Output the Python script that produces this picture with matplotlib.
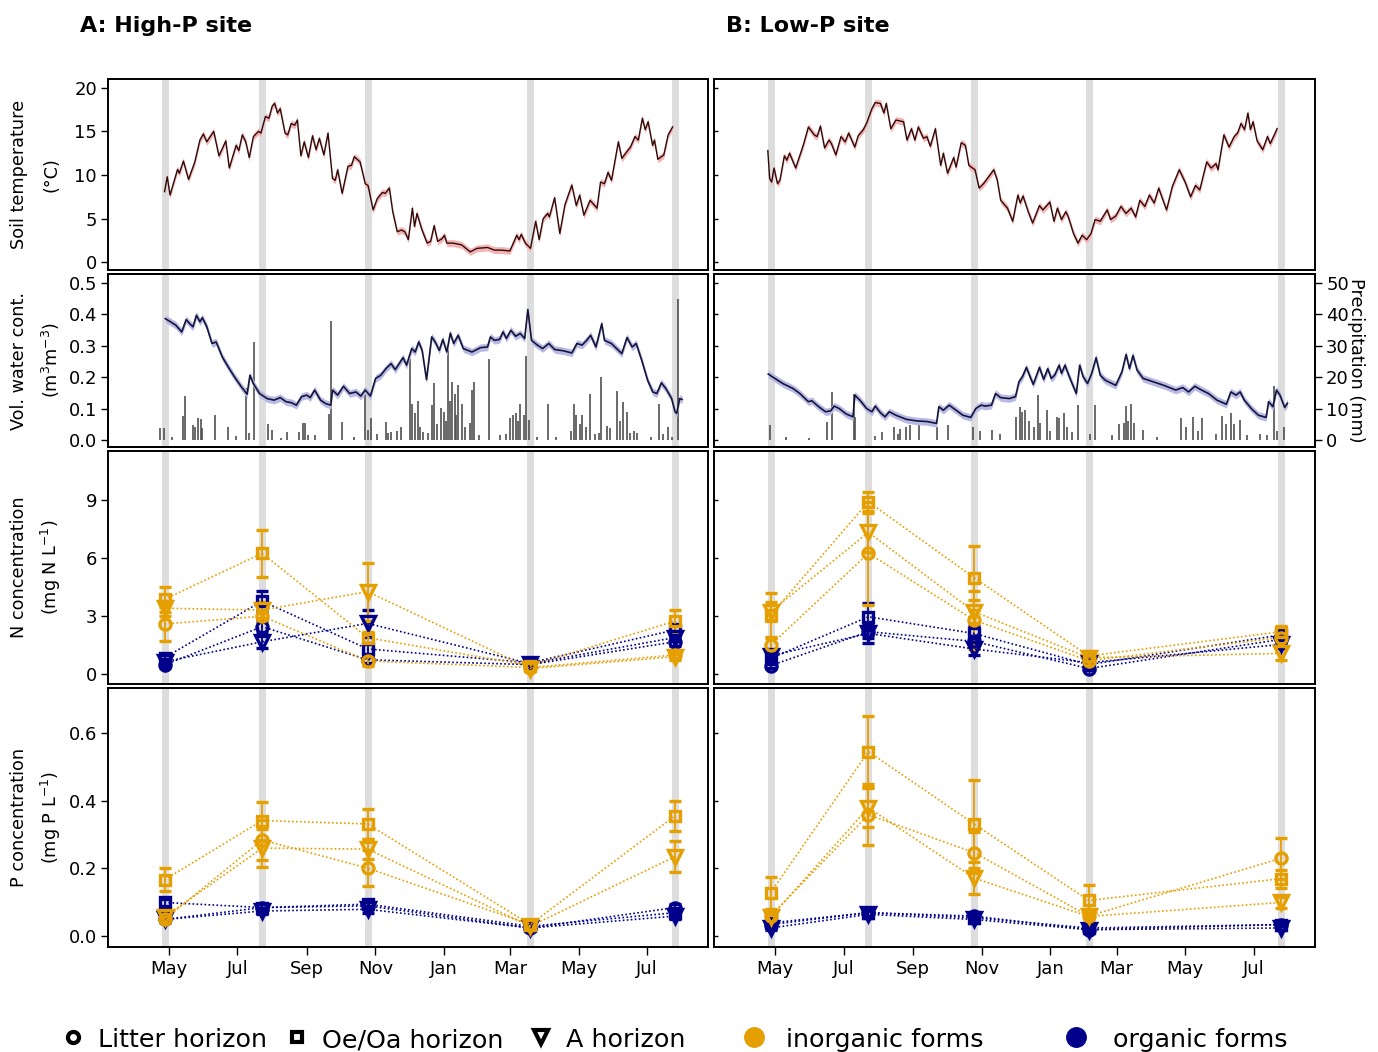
import numpy as np
import matplotlib
matplotlib.use("Agg")
import matplotlib.pyplot as plt
import matplotlib.dates as mdates
from matplotlib.lines import Line2D

plt.rcParams['font.family'] = ['DejaVu Sans']
plt.rcParams['mathtext.default'] = 'regular'

# ---------------- data (days since 1 May 2014) ----------------
BASE_DATE = '2014-05-01'

SAMPLE_A = [-4, 83, 177, 322, 451]
SAMPLE_B = [-4, 83, 177, 279, 450]

TEMP_A_DAYS = [-4.0, -1.6, 0.9, 7.6, 9.2, 12.8, 17.4, 23.0, 27.5, 30.6, 33.6, 39.8, 44.5, 48.1, 50.6, 53.7,
               59.8, 62.2, 65.3, 68.4, 71.5, 75.2, 79.8, 81.9, 85.9, 89.0, 92.0, 94.2, 96.7, 99.1, 103.4,
               105.8, 108.9, 112.0, 114.4, 117.5, 120.5, 124.2, 127.9, 131.0, 134.0, 138.0, 141.7, 145.7,
               148.2, 150.3, 154.3, 159.5, 162.6, 165.1, 170.3, 174.9, 177.4, 181.9, 185.6, 190.2, 192.7,
               196.4, 199.4, 203.4, 207.1, 210.2, 213.3, 216.9, 218.8, 221.0, 225.5, 230.1, 233.2, 236.3,
               239.4, 243.3, 245.5, 247.6, 253.1, 260.8, 268.5, 274.6, 283.9, 290.0, 296.1, 303.8, 306.9,
               309.9, 312.0, 313.9, 317.6, 322.2, 326.8, 329.9, 333.5, 337.5, 339.0, 343.7, 348.3, 352.9,
               359.0, 363.0, 366.0, 369.8, 375.3, 381.5, 384.6, 388.1, 391.3, 394.4, 400.5, 403.6, 408.2,
               411.3, 415.3, 418.3, 421.9, 424.4, 427.0, 431.0, 432.7, 435.7, 441.0, 444.9, 448.9]
TEMP_A = [8.1, 9.8, 7.7, 10.65, 10.2, 11.6, 9.5, 11.5, 14.0, 14.7, 13.8, 15.0, 12.2, 13.2, 13.9, 10.8,
          13.4, 12.8, 14.6, 13.8, 12.0, 14.4, 15.0, 14.8, 16.7, 16.5, 17.9, 18.2, 17.1, 17.6, 14.8,
          14.6, 15.9, 15.7, 16.3, 12.2, 13.8, 12.0, 14.5, 12.9, 14.2, 12.3, 14.8, 9.6,
          9.4, 10.6, 7.9, 11.0, 11.1, 12.1, 11.5, 9.0, 8.8, 6.0, 7.3, 8.0, 7.9,
          8.5, 5.8, 3.5, 3.7, 3.5, 2.6, 6.2, 4.1, 5.6, 3.7, 2.2, 2.4, 4.2,
          2.4, 2.7, 3.1, 2.2, 2.2, 2.0, 1.2, 1.6, 1.7, 1.4, 1.4, 1.3, 2.2,
          3.1, 2.6, 3.2, 2.2, 1.6, 4.7, 2.6, 5.0, 5.6, 5.2, 7.4, 3.3, 6.6,
          8.85, 6.5, 7.7, 5.4, 7.1, 6.2, 9.2, 9.0, 10.3, 9.4, 13.8, 11.9, 12.7,
          13.2, 14.4, 14.0, 16.5, 15.2, 16.1, 13.4, 14.0, 11.8, 12.3, 14.6, 15.5]

TEMP_B_DAYS = [-6.5, -4.9, -3.1, -1.0, 2.1, 4.3, 8.2, 10.4, 12.8, 18.3, 25.0, 29.6, 34.8, 37.3, 40.3, 44.0,
               47.9, 50.1, 54.0, 58.6, 62.3, 65.4, 70.9, 73.9, 78.5, 81.6, 86.1, 89.1, 93.7, 96.8, 98.9,
               102.9, 107.5, 114.3, 117.3, 121.3, 124.3, 127.4, 132.0, 135.0, 138.1, 142.6, 147.3, 149.7,
               153.4, 158.9, 161.0, 165.6, 169.3, 172.4, 177.9, 181.5, 185.4, 190.0, 194.6, 197.7, 200.7,
               206.8, 211.4, 216.0, 218.1, 220.6, 225.2, 229.1, 235.2, 238.3, 244.5, 248.1, 251.2, 254.8,
               258.7, 260.9, 265.5, 269.5, 273.2, 277.2, 281.1, 284.7, 289.3, 295.5, 298.5, 303.1, 307.7,
               312.2, 316.8, 320.8, 324.5, 329.0, 333.0, 337.3, 341.3, 348.3, 353.5, 359.6, 364.8, 369.7,
               374.0, 377.9, 384.0, 388.0, 392.3, 394.1, 399.3, 403.9, 408.5, 411.5, 414.6, 417.7, 420.7,
               422.9, 425.3, 428.9, 433.9, 438.1, 440.6, 446.7]
TEMP_B = [12.8, 9.6, 9.2, 10.8, 9.0, 9.4, 12.2, 11.7, 12.5, 10.8, 13.4, 15.5, 14.6, 14.4, 15.6, 13.1,
          14.0, 13.6, 12.3, 14.4, 13.8, 14.8, 13.2, 14.5, 15.2, 16.0, 17.6, 18.3, 18.2, 17.1, 18.2,
          15.3, 16.3, 16.1, 14.0, 15.3, 14.0, 15.5, 14.2, 14.4, 13.3, 15.3, 11.1, 12.5,
          10.2, 12.0, 10.9, 13.7, 13.4, 11.1, 10.6, 8.5, 9.0, 9.8, 10.6, 9.4, 7.1,
          6.2, 4.7, 7.7, 6.8, 7.6, 5.8, 4.5, 6.5, 6.0, 6.9, 4.7, 6.2, 4.9,
          5.8, 5.2, 3.3, 2.2, 3.1, 2.6, 3.3, 4.9, 4.7, 6.0, 4.9, 5.3, 6.4,
          5.6, 6.2, 5.2, 7.1, 6.4, 7.7, 6.8, 8.5, 6.0, 8.7, 10.6, 9.2, 7.5,
          8.8, 8.3, 11.5, 10.8, 11.3, 10.6, 14.6, 13.2, 14.4, 14.8, 15.9, 15.2, 17.1,
          15.2, 16.1, 13.9, 12.9, 14.4, 13.6, 15.3]

WATER_A_DAYS = [-3.3, 1.3, 6.1, 11.3, 15.3, 18.4, 21.4, 24.4, 27.5, 29.7, 33.7, 38.3, 42.0, 47.5, 53.0, 58.3,
                64.5, 69.6, 72.1, 75.1, 80.7, 87.4, 93.6, 99.1, 104.3, 108.9, 113.5, 118.1, 122.7, 125.8,
                129.8, 135.0, 139.6, 144.2, 145.7, 150.3, 155.5, 161.0, 166.6, 170.9, 174.9, 179.5, 184.1,
                188.7, 193.3, 197.9, 201.6, 208.6, 211.7, 216.3, 219.4, 222.5, 225.6, 229.5, 234.1, 237.2,
                240.9, 244.0, 247.6, 250.7, 253.7, 257.7, 262.3, 270.0, 277.7, 283.9, 286.4, 290.0, 294.6,
                297.7, 300.7, 304.7, 309.0, 313.0, 317.0, 319.8, 323.1, 328.3, 333.0, 338.5, 343.7, 351.3,
                359.0, 363.6, 368.2, 372.2, 375.8, 380.5, 385.7, 388.1, 394.3, 398.9, 403.6, 408.2, 412.8,
                416.4, 421.3, 426.6, 431.2, 434.8, 438.8, 442.8, 448.0, 451.0, 452.6, 455.1, 457.3]
WATER_A = [0.386, 0.376, 0.365, 0.344, 0.383, 0.370, 0.360, 0.397, 0.376, 0.389, 0.360, 0.307, 0.312, 0.264,
           0.231, 0.201, 0.169, 0.146, 0.206, 0.180, 0.148, 0.132, 0.127, 0.135, 0.122, 0.119, 0.111, 0.138,
           0.143, 0.135, 0.159, 0.127, 0.116, 0.111, 0.159, 0.143, 0.171, 0.148, 0.153, 0.140, 0.159, 0.140,
           0.196, 0.206, 0.227, 0.243, 0.224, 0.262, 0.238, 0.291, 0.280, 0.312, 0.285, 0.192, 0.328, 0.312,
           0.285, 0.320, 0.280, 0.340, 0.307, 0.333, 0.291, 0.280, 0.294, 0.296, 0.328, 0.317, 0.320,
           0.344, 0.323, 0.349, 0.330, 0.339, 0.323, 0.415, 0.317, 0.302, 0.291, 0.307, 0.288, 0.284,
           0.277, 0.307, 0.302, 0.317, 0.333, 0.296, 0.370, 0.317, 0.307, 0.291, 0.275, 0.326, 0.296,
           0.307, 0.254, 0.190, 0.153, 0.148, 0.182, 0.164, 0.132, 0.090, 0.085, 0.132, 0.129]

WATER_B_DAYS = [-6.1, -2.4, 6.7, 15.9, 22.0, 29.6, 32.7, 38.8, 44.9, 49.5, 52.5, 57.1, 63.2, 69.3, 70.9, 75.4,
                81.5, 86.1, 89.1, 93.7, 97.8, 101.5, 107.5, 116.7, 125.9, 135.0, 143.6, 145.7, 149.7, 154.9,
                161.0, 167.1, 174.1, 178.5, 183.3, 187.0, 192.5, 196.1, 200.7, 208.3, 213.9, 216.9, 220.0,
                223.6, 226.9, 229.7, 235.2, 238.9, 242.6, 245.7, 248.7, 252.7, 254.8, 257.9, 261.8, 268.0,
                271.0, 274.1, 278.0, 281.7, 285.6, 289.3, 293.9, 303.1, 308.6, 312.3, 315.3, 318.4, 322.1,
                327.5, 336.7, 345.9, 356.5, 362.7, 367.9, 373.4, 379.5, 385.6, 393.2, 401.5, 405.5, 410.1,
                413.8, 417.5, 423.8, 430.0, 436.9, 439.1, 443.0, 446.1, 449.2, 453.4, 455.9]
WATER_B = [0.210, 0.201, 0.180, 0.164, 0.148, 0.122, 0.125, 0.106, 0.090, 0.093, 0.108, 0.100, 0.083, 0.074,
           0.143, 0.127, 0.100, 0.090, 0.108, 0.087, 0.074, 0.090, 0.079, 0.066, 0.061, 0.059, 0.053, 0.106,
           0.095, 0.111, 0.095, 0.079, 0.072, 0.100, 0.111, 0.108, 0.111, 0.148, 0.135, 0.132, 0.138, 0.185,
           0.201, 0.231, 0.201, 0.177, 0.231, 0.193, 0.227, 0.196, 0.206, 0.238, 0.212, 0.238, 0.201, 0.148,
           0.238, 0.201, 0.180, 0.212, 0.262, 0.206, 0.190, 0.174, 0.217, 0.272, 0.227, 0.269, 0.222,
           0.196, 0.185, 0.174, 0.159, 0.167, 0.153, 0.171, 0.159, 0.148, 0.127, 0.114, 0.153, 0.143,
           0.153, 0.127, 0.100, 0.079, 0.072, 0.122, 0.106, 0.159, 0.143, 0.104, 0.117]

PRECIP_A_DAYS = [-8.3, -4.6, 3.0, 12.2, 14.4, 21.4, 23.5, 26.1, 28.5, 29.7, 40.8, 52.2, 60.0, 69.0, 71.4, 76.0,
                 88.3, 92.0, 100.0, 104.9, 115.7, 119.6, 121.2, 124.2, 130.0, 142.7, 144.8, 154.0, 165.0,
                 174.9, 177.0, 180.0, 185.0, 193.2, 194.8, 198.0, 203.0, 207.1, 214.8, 216.3, 219.4, 221.8,
                 224.0, 226.0, 231.0, 234.1, 236.2, 239.0, 242.4, 245.5, 247.0, 248.8, 250.1, 252.5, 254.7,
                 256.0, 257.7, 260.8, 264.0, 268.0, 270.0, 272.2, 276.0, 285.4, 294.6, 300.0, 303.8, 306.9,
                 309.0, 311.0, 313.0, 316.0, 318.5, 320.7, 328.0, 337.5, 345.0, 358.0, 360.6, 363.1, 366.0,
                 368.3, 372.0, 375.3, 380.0, 383.5, 385.1, 390.0, 392.8, 398.9, 402.0, 405.0, 408.2, 411.3,
                 414.0, 417.4, 430.0, 436.7, 440.0, 444.6, 448.0, 453.6]
PRECIP_A = [3.7, 3.7, 1.0, 7.6, 14.0, 4.8, 4.2, 6.9, 6.6, 3.7, 7.9, 4.2, 1.2, 16.4, 2.1, 31.2,
            5.1, 3.2, 0.8, 2.6, 2.6, 5.5, 5.3, 1.6, 1.5, 8.3, 37.9, 5.8, 1.0,
            16.4, 3.2, 6.9, 1.8, 5.8, 2.1, 2.5, 3.0, 4.2, 25.9, 11.6, 8.5, 12.5,
            4.2, 2.5, 2.1, 11.1, 18.2, 5.0, 10.1, 9.0, 6.0, 28.6, 12.5, 18.5, 14.8,
            8.0, 17.5, 11.6, 4.0, 5.5, 15.9, 18.5, 1.5, 25.9, 1.6, 2.0, 6.9, 7.9,
            8.5, 6.0, 11.4, 7.9, 26.7, 6.3, 1.0, 11.4, 1.0, 3.0, 11.6, 7.9, 5.0,
            7.9, 4.0, 14.8, 2.0, 2.1, 19.9, 4.5, 3.7, 15.7, 6.0, 12.2, 9.0, 2.1,
            3.0, 2.1, 1.0, 11.6, 2.0, 4.2, 1.0, 45.0]

PRECIP_B_DAYS = [-4.9, 10.0, 30.0, 46.4, 51.0, 70.3, 70.9, 89.2, 95.0, 106.0, 109.1, 111.0, 116.7, 120.4,
                 128.3, 143.6, 154.0, 176.3, 182.4, 193.1, 200.0, 214.5, 217.5, 220.0, 222.1, 226.0, 230.0,
                 234.3, 235.9, 242.0, 245.0, 250.5, 252.7, 257.3, 259.7, 264.0, 269.5, 280.0, 284.7, 300.0,
                 306.1, 310.7, 312.2, 314.0, 316.8, 319.0, 327.5, 340.0, 361.1, 366.0, 371.8, 376.0, 379.5,
                 392.0, 397.8, 401.0, 405.5, 408.5, 413.7, 420.0, 431.4, 438.0, 444.2, 447.0, 452.8]
PRECIP_B = [4.8, 1.0, 0.8, 5.8, 15.3, 14.6, 7.2, 1.3, 2.5, 4.2, 2.0, 3.5, 4.2, 4.8,
            5.3, 4.2, 4.8, 4.2, 3.0, 3.2, 2.0, 7.4, 10.6, 9.0, 9.5, 6.0, 4.0,
            14.3, 5.3, 9.5, 3.0, 7.4, 6.9, 8.5, 4.2, 2.5, 11.1, 2.0, 11.1, 1.5,
            5.1, 5.3, 10.8, 6.0, 11.6, 5.3, 3.2, 1.0, 6.9, 4.0, 7.4, 3.0, 6.9,
            2.0, 7.6, 5.0, 8.5, 5.1, 6.3, 1.5, 2.0, 1.5, 17.1, 3.0, 4.2]

HORIZONS = ['Litter horizon', 'Oe/Oa horizon', 'A horizon']

# N concentration (mg N/L): [Litter, Oe/Oa, A] per sampling date
N_INORG_A = [[2.6, 3.0, 0.69, 0.35, 1.0], [3.87, 6.25, 1.89, 0.45, 2.75], [3.41, 3.32, 4.27, 0.3, 0.91]]
N_INORG_A_ERR = [[0.88, 0.3, 0.25, 0.1, 0.15], [0.65, 1.2, 0.3, 0.1, 0.55], [0.4, 0.4, 1.5, 0.1, 0.15]]
N_ORG_A = [[0.49, 2.46, 0.75, 0.5, 1.68], [0.86, 3.78, 1.31, 0.6, 2.29], [0.65, 1.68, 2.63, 0.55, 1.9]]
N_ORG_A_ERR = [[0.1, 0.3, 0.15, 0.1, 0.2], [0.15, 0.5, 0.3, 0.1, 0.3], [0.15, 0.3, 0.7, 0.1, 0.2]]

N_INORG_B = [[1.51, 6.25, 2.8, 0.7, 1.9], [3.06, 8.91, 4.99, 0.95, 2.2], [3.23, 7.33, 3.23, 0.86, 1.08]]
N_INORG_B_ERR = [[0.38, 2.65, 1.5, 0.15, 0.2], [1.15, 0.5, 1.65, 0.2, 0.3], [0.5, 1.0, 0.6, 0.1, 0.35]]
N_ORG_B = [[0.45, 2.2, 1.7, 0.3, 1.8], [0.82, 2.97, 2.11, 0.5, 2.03], [0.96, 2.11, 1.31, 0.6, 1.54]]
N_ORG_B_ERR = [[0.1, 0.3, 0.3, 0.1, 0.2], [0.15, 0.7, 0.4, 0.1, 0.2], [0.15, 0.5, 0.3, 0.1, 0.2]]

# P concentration (mg P/L)
P_INORG_A = [[0.05, 0.284, 0.201, 0.035, np.nan], [0.167, 0.341, 0.331, 0.035, 0.355], [0.057, 0.26, 0.257, 0.03, 0.235]]
P_INORG_A_ERR = [[0.01, 0.06, 0.054, 0.005, 0.0], [0.033, 0.056, 0.044, 0.005, 0.045], [0.01, 0.055, 0.03, 0.005, 0.045]]
P_ORG_A = [[0.05, 0.085, 0.09, 0.025, 0.085], [0.10, 0.085, 0.095, 0.03, 0.07], [0.05, 0.075, 0.08, 0.025, 0.06]]
P_ORG_A_ERR = [[0.005, 0.01, 0.01, 0.005, 0.01], [0.01, 0.01, 0.01, 0.005, 0.01], [0.005, 0.01, 0.01, 0.005, 0.01]]

P_INORG_B = [[0.06, 0.358, 0.247, 0.06, 0.23], [0.129, 0.544, 0.331, 0.106, 0.17], [0.057, 0.379, 0.172, 0.059, 0.1]]
P_INORG_B_ERR = [[0.01, 0.09, 0.06, 0.005, 0.06], [0.047, 0.105, 0.13, 0.046, 0.027], [0.01, 0.057, 0.046, 0.005, 0.015]]
P_ORG_B = [[0.035, 0.07, 0.06, 0.02, 0.035], [0.04, 0.07, 0.055, 0.025, 0.035], [0.025, 0.065, 0.05, 0.02, 0.025]]
P_ORG_B_ERR = [[0.005, 0.01, 0.01, 0.005, 0.005], [0.005, 0.01, 0.01, 0.005, 0.005], [0.005, 0.01, 0.01, 0.005, 0.005]]

TITLES = ['A: High-P site', 'B: Low-P site']
COL_INORG = '#E69F00'
COL_ORG = '#00008B'

# ---------------- helpers ----------------
BASE_NUM = mdates.date2num(np.datetime64(BASE_DATE))


def dnum(days):
    return BASE_NUM + np.asarray(days, dtype=float)


W, H = 1378, 1052
fig = plt.figure(figsize=(W / 100, H / 100), dpi=100)


def rect(l, t, r, b):
    return [l / W, 1 - b / H, (r - l) / W, (b - t) / H]


COLS = [(108, 708), (714, 1315)]
ROWS = [(79, 270), (274, 447), (451, 684), (688, 947)]
XLIM = (BASE_NUM - 54.4, mdates.date2num(np.datetime64('2015-07-01')) + 54.4)
FS = 13

site = [
    dict(sample=SAMPLE_A, tdays=TEMP_A_DAYS, t=TEMP_A, wdays=WATER_A_DAYS, w=WATER_A,
         pdays=PRECIP_A_DAYS, p=PRECIP_A, nin=N_INORG_A, nine=N_INORG_A_ERR, nor=N_ORG_A, nore=N_ORG_A_ERR,
         pin=P_INORG_A, pine=P_INORG_A_ERR, por=P_ORG_A, pore=P_ORG_A_ERR),
    dict(sample=SAMPLE_B, tdays=TEMP_B_DAYS, t=TEMP_B, wdays=WATER_B_DAYS, w=WATER_B,
         pdays=PRECIP_B_DAYS, p=PRECIP_B, nin=N_INORG_B, nine=N_INORG_B_ERR, nor=N_ORG_B, nore=N_ORG_B_ERR,
         pin=P_INORG_B, pine=P_INORG_B_ERR, por=P_ORG_B, pore=P_ORG_B_ERR),
]

MARKERS = ['o', 's', 'v']
MSIZES = [8, 7.5, 10]


def style_axis(ax, col, bottom=False):
    ax.set_xlim(*XLIM)
    for s in ax.spines.values():
        s.set_linewidth(1.4)
    ax.xaxis.set_major_locator(mdates.MonthLocator(bymonth=[1, 3, 5, 7, 9, 11]))
    ax.xaxis.set_major_formatter(mdates.DateFormatter('%b'))
    if bottom:
        ax.tick_params(axis='x', direction='out', length=6, width=1, labelsize=FS, pad=3)
    else:
        ax.tick_params(axis='x', length=0, labelbottom=False)
    if col == 0:
        ax.tick_params(axis='y', direction='out', length=5, width=1, labelsize=FS, pad=3)
    else:
        ax.tick_params(axis='y', direction='in', length=3, width=1, labelleft=False)


def gray_lines(ax, sample):
    for d in dnum(sample):
        ax.axvline(d, color='#dddddd', lw=5.0, zorder=0)


for c, S in enumerate(site):
    l, r = COLS[c]
    # --- temperature
    ax = fig.add_axes(rect(l, ROWS[0][0], r, ROWS[0][1]))
    gray_lines(ax, S['sample'])
    x = dnum(S['tdays'])
    t = np.array(S['t'])
    ax.fill_between(x, t - 0.4, t + 0.4, color='#f5b3b3', lw=0, zorder=1)
    ax.plot(x, t, color='#2e0b0b', lw=1.0, zorder=2)
    ax.set_ylim(-0.88, 21.0)
    ax.set_yticks([0, 5, 10, 15, 20])
    style_axis(ax, c)

    # --- water + precipitation
    axp = fig.add_axes(rect(l, ROWS[1][0], r, ROWS[1][1]))
    axw = fig.add_axes(rect(l, ROWS[1][0], r, ROWS[1][1]), sharex=axp)
    axw.patch.set_visible(False)
    axp.set_zorder(1)
    axw.set_zorder(2)
    gray_lines(axp, S['sample'])
    axp.vlines(dnum(S['pdays']), 0, S['p'], color='#505050', lw=1.2, zorder=1)
    axp.set_ylim(-2.2, 52.8)
    axp.yaxis.tick_right()
    axp.set_yticks([0, 10, 20, 30, 40, 50])
    style_axis(axp, 1)
    if c == 1:
        axp.tick_params(axis='y', direction='out', length=5, width=1, labelsize=FS, pad=3,
                        labelright=True, right=True, left=False)
    else:
        axp.tick_params(axis='y', right=False, labelright=False, left=False)
    xw = dnum(S['wdays'])
    w = np.array(S['w'])
    axw.fill_between(xw, w - 0.012, w + 0.012, color='#b9b9e6', lw=0, zorder=1)
    axw.plot(xw, w, color='#15153a', lw=1.2, zorder=2)
    axw.set_ylim(-0.022, 0.528)
    axw.set_yticks([0.0, 0.1, 0.2, 0.3, 0.4, 0.5])
    axw.yaxis.set_major_formatter(matplotlib.ticker.FormatStrFormatter('%.1f'))
    style_axis(axw, c)

    # --- N and P
    for k, (key, ylim, yt, fmt) in enumerate([('n', (-0.5, 11.53), [0, 3, 6, 9], '%d'),
                                              ('p', (-0.031, 0.731), [0.0, 0.2, 0.4, 0.6], '%.1f')]):
        ax = fig.add_axes(rect(l, ROWS[2 + k][0], r, ROWS[2 + k][1]))
        gray_lines(ax, S['sample'])
        xs = dnum(S['sample'])
        for form, col in [('or', COL_ORG), ('in', COL_INORG)]:
            vals = S[key + form]
            errs = S[key + form + 'e']
            for h in range(3):
                ax.errorbar(xs, vals[h], yerr=errs[h], color=col, ls=(0, (1, 1.4)), lw=1.2,
                            marker=MARKERS[h], ms=MSIZES[h], mfc='none', mec=col, mew=2.4,
                            capsize=4.5, elinewidth=1.3, capthick=1.3, zorder=3)
        ax.set_ylim(*ylim)
        ax.set_yticks(yt)
        ax.yaxis.set_major_formatter(matplotlib.ticker.FormatStrFormatter(fmt))
        style_axis(ax, c, bottom=(k == 1))

# ---------------- labels ----------------
def row_center(i):
    return 1 - (ROWS[i][0] + ROWS[i][1]) / 2 / H


YLABELS = [('Soil temperature', '(°C)'),
           ('Vol. water cont.', '(m$^{3}$m$^{-3}$)'),
           ('N concentration', '(mg N L$^{-1}$)'),
           ('P concentration', '(mg P L$^{-1}$)')]
for i, (a, b) in enumerate(YLABELS):
    fig.text(19 / W, row_center(i), a, rotation=90, ha='center', va='center', fontsize=12.7)
    fig.text(51 / W, row_center(i), b, rotation=90, ha='center', va='center', fontsize=12.7)

fig.text(1356 / W, row_center(1), 'Precipitation (mm)', rotation=270, ha='center', va='center', fontsize=12.7)

fig.text(80 / W, 1 - 31.7 / H, TITLES[0], fontsize=16, fontweight='bold', ha='left', va='baseline')
fig.text(726 / W, 1 - 31.7 / H, TITLES[1], fontsize=16, fontweight='bold', ha='left', va='baseline')

# ---------------- legend ----------------
LEG_Y = 1 - 1037 / H
LEG_BASE = 1 - 1047 / H
leg_items = [
    (73, 98, 'o', 8, 'none', 'black', HORIZONS[0]),
    (297, 322, 's', 7.5, 'none', 'black', HORIZONS[1]),
    (541, 566, 'v', 10, 'none', 'black', HORIZONS[2]),
    (754, 786, 'o', 14, COL_INORG, COL_INORG, 'inorganic forms'),
    (1076, 1113, 'o', 14, COL_ORG, COL_ORG, 'organic forms'),
]
for mx, tx, mk, ms, fc, ec, label in leg_items:
    fig.add_artist(Line2D([mx / W], [LEG_Y], transform=fig.transFigure, marker=mk, ms=ms,
                          mfc=fc, mec=ec, mew=3 if fc == 'none' else 1, ls='none'))
    fig.text(tx / W, LEG_BASE, label, fontsize=18.3, ha='left', va='baseline')

fig.savefig('out.png', dpi=100)
